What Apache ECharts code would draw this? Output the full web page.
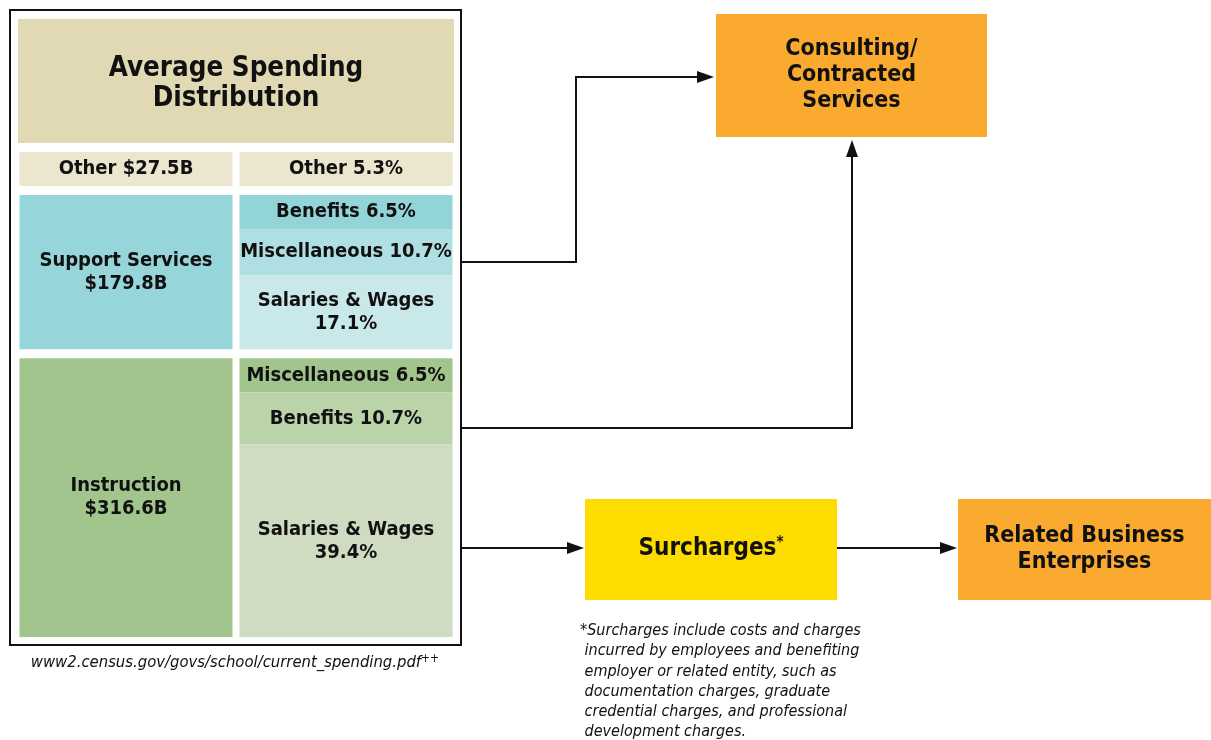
<!DOCTYPE html>
<html>
<head>
<meta charset="utf-8">
<script src="https://cdn.jsdelivr.net/npm/echarts@6/dist/echarts.min.js"></script>
<style>
  html, body { margin: 0; padding: 0; background: #fff; }
  #main { width: 1211px; height: 740px; }
</style>
</head>
<body>
<div id="main"></div>
<script>
// Average spending: groups in $ billions, details as share of total spending (%)
const groupNames = ['Other', 'Support Services', 'Instruction'];
const groupSpending = [27.5, 179.8, 316.6];
const detailNames = [
    ['Other'],
    ['Benefits', 'Miscellaneous', 'Salaries & Wages'],
    ['Miscellaneous', 'Benefits', 'Salaries & Wages']
];
const detailShares = [
    [5.3],
    [6.5, 10.7, 17.1],
    [6.5, 10.7, 39.4]
];

// colours per block
const groupColors = ['#ebe6cd', '#96d5da', '#a2c48d'];
const detailColors = [
    ['#ebe6cd'],
    ['#93d4d9', '#afdfe3', '#c9e8ea'],
    ['#a2c48d', '#bbd3a9', '#cfdcc1']
];

const FONT = '"DejaVu Sans Condensed", "DejaVu Sans", sans-serif';
const TEXT = '#111';

// stack the groups, keeping tiny ones tall enough for one line of text
const total = groupSpending.reduce((a, b) => a + b, 0);
const MIN_FRAC = 0.087;
const isSmall = groupSpending.map(v => v / total < MIN_FRAC);
const fixedPart = isSmall.filter(Boolean).length * MIN_FRAC * total;
const restSum = groupSpending.filter((v, i) => !isSmall[i]).reduce((a, b) => a + b, 0);
const adjusted = groupSpending.map((v, i) => isSmall[i] ? MIN_FRAC * total : v * (total - fixedPart) / restSum);
let acc = 0;
const blockData = adjusted.map((v, i) => {
    const item = [i, acc, acc + v];
    acc += v;
    return item;
});

const GAP_Y = 9;
const GAP_X = 7;
const MIN_SUB = 34;

function label(x, y, text, size) {
    return {
        type: 'text',
        style: {
            x: x, y: y, text: text,
            fill: TEXT, fontFamily: FONT, fontWeight: 'bold', fontSize: size || 20,
            lineHeight: 23, align: 'center', verticalAlign: 'middle'
        }
    };
}

function renderItem(params, api) {
    const g = api.value(0);
    const top = api.coord([0, api.value(1)])[1] + GAP_Y / 2;
    const bottom = api.coord([0, api.value(2)])[1] - GAP_Y / 2;
    const band = api.size([1, 0])[0];
    const w = band - GAP_X;
    const xL = api.coord([0, 0])[0] - w / 2;
    const xR = api.coord([1, 0])[0] - w / 2;
    const h = bottom - top;
    const children = [];

    children.push({
        type: 'rect',
        shape: { x: xL, y: top, width: w, height: h },
        style: { fill: groupColors[g] }
    });
    const gText = h > 70
        ? groupNames[g] + '\n$' + groupSpending[g] + 'B'
        : groupNames[g] + ' $' + groupSpending[g] + 'B';
    children.push(label(xL + w / 2, top + h / 2, gText));

    // split the right column by share
    const shares = detailShares[g];
    const sum = shares.reduce((a, b) => a + b, 0);
    const small = shares.map(s => s / sum * h < MIN_SUB);
    const fixedH = small.filter(Boolean).length * MIN_SUB;
    const bigSum = shares.filter((s, i) => !small[i]).reduce((a, b) => a + b, 0);
    let y = top;
    shares.forEach((s, i) => {
        const sh = small[i] ? MIN_SUB : s / bigSum * (h - fixedH);
        children.push({
            type: 'rect',
            shape: { x: xR, y: y, width: w, height: sh },
            style: { fill: detailColors[g][i] }
        });
        const t = sh > 70
            ? detailNames[g][i] + '\n' + s + '%'
            : detailNames[g][i] + ' ' + s + '%';
        children.push(label(xR + w / 2, y + sh / 2, t));
        y += sh;
    });

    return { type: 'group', children: children };
}

function arrowHead(tip, dir) {
    const L = 17, W = 6;
    const [x, y] = tip;
    let pts;
    if (dir === 'right') pts = [[x, y], [x - L, y - W], [x - L, y + W]];
    else pts = [[x, y], [x - W, y + L], [x + W, y + L]];
    return { type: 'polygon', shape: { points: pts }, style: { fill: '#111' } };
}

function line(points) {
    return { type: 'polyline', shape: { points: points }, style: { stroke: '#111', lineWidth: 2, fill: null } };
}

function box(x, y, w, h, color, text) {
    return [
        { type: 'rect', shape: { x: x, y: y, width: w, height: h }, style: { fill: color } },
        {
            type: 'text',
            style: {
                x: x + w / 2, y: y + h / 2, text: text, fill: TEXT,
                fontFamily: FONT, fontWeight: 'bold', fontSize: 23, lineHeight: 26,
                align: 'center', verticalAlign: 'middle'
            }
        }
    ];
}

var chart = echarts.init(document.getElementById('main'));

var option = {
    backgroundColor: '#fff',
    animation: false,
    grid: { left: 16, right: 755, top: 147.5, bottom: 98.5 },
    xAxis: { type: 'category', data: ['Spending', 'Share'], show: false },
    yAxis: { type: 'value', min: 0, max: total, inverse: true, show: false },
    series: [{
        type: 'custom',
        renderItem: renderItem,
        data: blockData,
        silent: true
    }],
    graphic: [].concat(
        [{
            type: 'rect', shape: { x: 10, y: 10, width: 451, height: 635 },
            style: { fill: null, stroke: '#111', lineWidth: 2 }
        }],
        box(18, 19, 436, 124, '#e1d9b4', ''),
        [{
            type: 'text',
            style: {
                x: 236, y: 84, text: 'Average Spending\nDistribution', fill: TEXT,
                fontFamily: FONT, fontWeight: 'bold', fontSize: 27.5, lineHeight: 30,
                align: 'center', verticalAlign: 'middle'
            }
        }],
        box(716, 14, 271, 123, '#fbaa30', 'Consulting/\nContracted\nServices'),
        box(958, 499, 253, 101, '#fbaa30', 'Related Business\nEnterprises'),
        [
            { type: 'rect', shape: { x: 585, y: 499, width: 252, height: 101 }, style: { fill: '#fddc00' } },
            {
                type: 'text',
                style: {
                    x: 711, y: 549, text: '{a|Surcharges}{s|*}',
                    align: 'center', verticalAlign: 'middle',
                    rich: {
                        a: { fontFamily: FONT, fontWeight: 'bold', fontSize: 24, fill: TEXT },
                        s: { fontFamily: FONT, fontWeight: 'bold', fontSize: 15, fill: TEXT, padding: [0, 0, 12, 0] }
                    }
                }
            },
            line([[461, 262], [576, 262], [576, 77], [698, 77]]),
            arrowHead([714, 77], 'right'),
            line([[461, 428], [852, 428], [852, 156]]),
            arrowHead([852, 140], 'up'),
            line([[461, 548], [568, 548]]),
            arrowHead([584, 548], 'right'),
            line([[837, 548], [941, 548]]),
            arrowHead([957, 548], 'right'),
            {
                type: 'text',
                style: {
                    x: 235, y: 663, text: '{a|www2.census.gov/govs/school/current_spending.pdf}{s|++}',
                    align: 'center', verticalAlign: 'middle',
                    rich: {
                        a: { fontFamily: FONT, fontStyle: 'italic', fontSize: 16.5, fill: TEXT },
                        s: { fontFamily: FONT, fontStyle: 'italic', fontSize: 12, fill: TEXT, padding: [0, 0, 8, 0] }
                    }
                }
            },
            {
                type: 'text',
                style: {
                    x: 580, y: 621,
                    text: '*Surcharges include costs and charges\n incurred by employees and benefiting\n employer or related entity, such as\n documentation charges, graduate\n credential charges, and professional\n development charges.',
                    fontFamily: FONT, fontStyle: 'italic', fontSize: 16, lineHeight: 20.2,
                    fill: TEXT, align: 'left', verticalAlign: 'top'
                }
            }
        ]
    )
};

chart.setOption(option);
</script>
</body>
</html>
